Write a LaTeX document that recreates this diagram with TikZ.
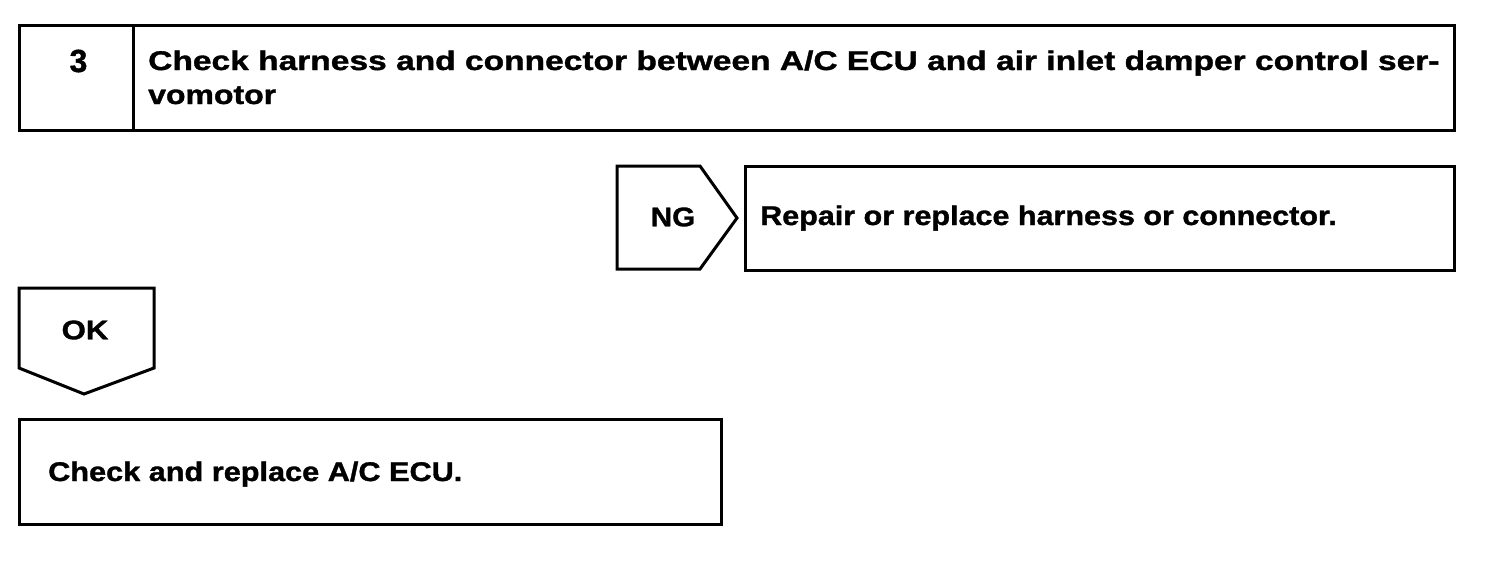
\documentclass[tikz,border=0pt]{standalone}
\usepackage{fontspec}
\setmainfont[BoldFeatures={FakeBold=1.2}]{Liberation Sans}
\newcommand{\wide}[2]{\scalebox{#1}[1]{#2}}
\begin{document}
\begin{tikzpicture}[x=1pt,y=-1pt,
  frame/.style={draw=black,line width=3pt,line join=miter},
  txt/.style={font=\fontsize{27}{27}\selectfont\bfseries,inner sep=0pt,anchor=base west},
  ctxt/.style={font=\fontsize{27}{27}\selectfont\bfseries,inner sep=0pt}]
\useasboundingbox (0,0) rectangle (1504,574);
% top box
\draw[frame] (19,25) rectangle (1454,130);
\draw[frame] (133,25) -- (133,130);
\node[ctxt,font=\fontsize{32}{32}\selectfont\bfseries] (num) at (78.5,61) {3};
\node[txt] (t1) at (148,70) {\wide{1.242}{Check harness and connector between A/C ECU and air inlet damper control ser-}};
\node[txt] (t2) at (148,104) {\wide{1.185}{vomotor}};
% NG
\draw[frame] (617,166) -- (700,166) -- (737,218) -- (700,269) -- (617,269) -- cycle;
\node[ctxt] (ng) at (673,217) {\wide{1.10}{NG}};
\draw[frame] (745,166) rectangle (1454,270);
\node[txt] (rep) at (760,225) {\wide{1.13}{Repair or replace harness or connector.}};
% OK
\draw[frame] (19,288) -- (154,288) -- (154,368) -- (84,394) -- (19,368) -- cycle;
\node[ctxt] (ok) at (85,330) {\wide{1.155}{OK}};
% bottom
\draw[frame] (19,419) rectangle (721,524);
\node[txt] (chk) at (48,481) {\wide{1.136}{Check and replace A/C ECU.}};
\end{tikzpicture}
\end{document}
